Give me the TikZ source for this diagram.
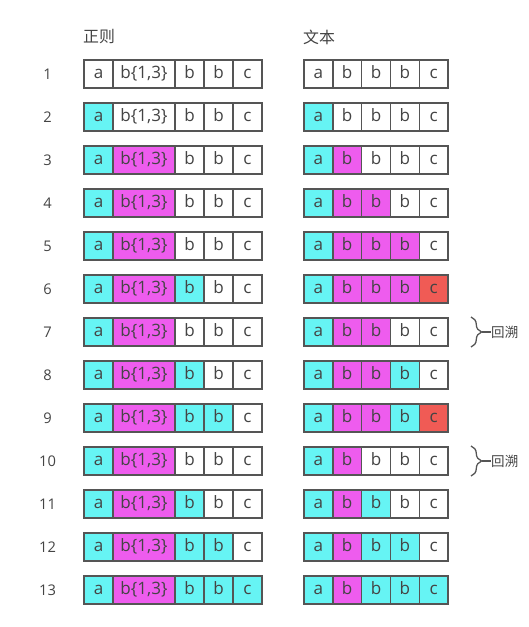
\documentclass[tikz,border=0pt]{standalone}
\usepackage{fontspec}
\setmainfont{Open Sans}
\newfontfamily\cjk{Noto Sans CJK SC}
\usepackage{xcolor}
\usepackage{tikz}
\usetikzlibrary{positioning,decorations.pathreplacing}
\definecolor{w}{HTML}{FFFFFF}
\definecolor{c}{HTML}{66F4F4}
\definecolor{m}{HTML}{EE5CEE}
\definecolor{r}{HTML}{F05B55}
\definecolor{linec}{HTML}{555555}
\definecolor{txtc}{HTML}{444444}
\tikzset{
  cell/.style={draw=linec,line width=1.2pt,text=txtc,minimum height=28*0.85pt,inner sep=0pt,outer sep=0pt,
    font=\fontsize{14.5}{17}\selectfont,text height=0.85em,text depth=0.1em},
  num/.style={text=txtc,font=\fontsize{12.5}{15}\selectfont},
  head/.style={text=txtc,font=\cjk\fontsize{13.5}{16}\selectfont,anchor=west,inner sep=0pt},
  back/.style={text=txtc,font=\cjk\fontsize{11.5}{14}\selectfont,anchor=west,inner sep=0pt},
  br/.style={decorate,decoration={brace,amplitude=9pt},draw=linec,line width=1.1pt}
}
\begin{document}
\begin{tikzpicture}[x=0.85pt,y=-0.85pt]
\useasboundingbox (0,0) rectangle (528,627);
\node[head] (regex) at (83,37) {正则};
\node[head] (text) at (303,37) {文本};
% rows: regex cells, then text cells
\foreach \r/\la/\lb/\lc/\ld/\le/\ra/\rb/\rc/\rd/\re in {
  1/w/w/w/w/w/w/w/w/w/w,
  2/c/w/w/w/w/c/w/w/w/w,
  3/c/m/w/w/w/c/m/w/w/w,
  4/c/m/w/w/w/c/m/m/w/w,
  5/c/m/w/w/w/c/m/m/m/w,
  6/c/m/c/w/w/c/m/m/m/r,
  7/c/m/w/w/w/c/m/m/w/w,
  8/c/m/c/w/w/c/m/m/c/w,
  9/c/m/c/c/w/c/m/m/c/r,
  10/c/m/w/w/w/c/m/w/w/w,
  11/c/m/c/w/w/c/m/c/w/w,
  12/c/m/c/c/w/c/m/c/c/w,
  13/c/m/c/c/c/c/m/c/c/c}{
  \pgfmathsetmacro\y{74+43*(\r-1)}
  \node[num] (n\r) at (47.5,\y) {\r};
  \node[cell,fill=\la,minimum width=29*0.85pt] (L\r-1) at (98.5,\y) {a};
  \node[cell,fill=\lb,minimum width=62*0.85pt,right=0pt of L\r-1] (L\r-2) {b\{1,3\}};
  \node[cell,fill=\lc,minimum width=29*0.85pt,right=0pt of L\r-2] (L\r-3) {b};
  \node[cell,fill=\ld,minimum width=29*0.85pt,right=0pt of L\r-3] (L\r-4) {b};
  \node[cell,fill=\le,minimum width=29*0.85pt,right=0pt of L\r-4] (L\r-5) {c};
  \node[cell,fill=\ra,minimum width=28.8*0.85pt] (T\r-1) at (318.4,\y) {a};
  \node[cell,fill=\rb,minimum width=28.8*0.85pt,right=0pt of T\r-1] (T\r-2) {b};
  \node[cell,fill=\rc,minimum width=28.8*0.85pt,right=0pt of T\r-2] (T\r-3) {b};
  \node[cell,fill=\rd,minimum width=28.8*0.85pt,right=0pt of T\r-3] (T\r-4) {b};
  \node[cell,fill=\re,minimum width=28.8*0.85pt,right=0pt of T\r-4] (T\r-5) {c};
}
% backtracking marks
\foreach \r in {7,10}{
  \pgfmathsetmacro\y{74+43*(\r-1)}
  \coordinate (bt\r) at (471,\y-15);
  \coordinate (bb\r) at (471,\y+15);
  \coordinate (tip\r) at (481.5,\y);
  \node[back] (back\r) at (491,\y) {回溯};
  \draw[br] (bt\r) -- (bb\r);
  \draw[linec,line width=1.1pt] (tip\r) -- (back\r.west);
}
\end{tikzpicture}
\end{document}
